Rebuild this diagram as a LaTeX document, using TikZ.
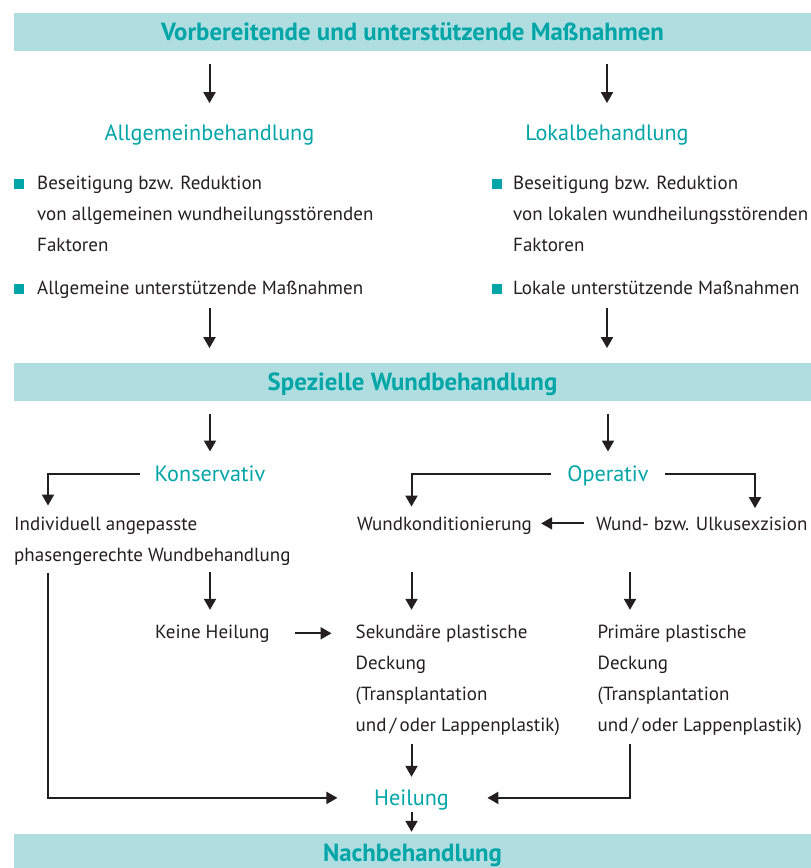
\documentclass[tikz,border=0pt]{standalone}
\usepackage{fontspec}
\setmainfont{PT Sans}
\usetikzlibrary{positioning,arrows.meta}
\definecolor{petrol}{HTML}{00A5A8}
\definecolor{bandc}{HTML}{B0DEE0}
\definecolor{ink}{HTML}{231F20}
\tikzset{
  band/.style={rectangle, fill=bandc, minimum width=797pt, minimum height=38pt, inner sep=0pt,
    text=petrol, font=\fontsize{24.8}{28}\selectfont\bfseries, text height=17.4pt, text depth=0pt},
  head/.style={text=petrol, font=\fontsize{22.2}{26}\selectfont, inner sep=0pt, anchor=base,
    text height=17pt, text depth=2pt},
  txt/.style={text=ink, font=\fontsize{19}{31}\selectfont, align=left, inner sep=0pt, anchor=base west},
  dot/.style={rectangle, fill=petrol, minimum size=10pt, inner sep=0pt},
  line/.style={draw=ink, line width=2pt, -{Triangle[width=12pt,length=11pt]}},
}
\begin{document}
\begin{tikzpicture}[x=1pt,y=-1pt]
  \useasboundingbox (0,0) rectangle (811,868);
  \clip (0,0) rectangle (811,868);

  % Baender
  \node[band] (vor) at (412.5,32) {Vorbereitende und unterstützende Maßnahmen};
  \node[band] (spez) at (412.5,381.7) {Spezielle Wundbehandlung};
  \node[band] (nach) at (412.5,853) {Nachbehandlung};

  % Allgemein- und Lokalbehandlung
  \node[head] (allg) at (209.5,140) {Allgemeinbehandlung};
  \node[head] (lokal) at (607,140) {Lokalbehandlung};

  % base = Grundlinie der letzten Zeile
  \node[txt] (allgred) at (37,251) {Beseitigung bzw. Reduktion\\von allgemeinen wundheilungsstörenden\\Faktoren};
  \node[txt] (allgmass) at (37,294) {Allgemeine unterstützende Maßnahmen};
  \node[txt] (lokred) at (513,251) {Beseitigung bzw. Reduktion\\von lokalen wundheilungsstörenden\\Faktoren};
  \node[txt] (lokmass) at (513,294) {Lokale unterstützende Maßnahmen};

  \node[dot, left=13pt of allgred.north west, yshift=-9pt] (d1) {};
  \node[dot, left=13pt of allgmass.base west, yshift=5pt] (d2) {};
  \node[dot, left=11pt of lokred.north west, yshift=-9pt] (d3) {};
  \node[dot, left=11pt of lokmass.base west, yshift=5pt] (d4) {};

  % spezielle Wundbehandlung
  \node[head] (kons) at (210,481.7) {Konservativ};
  \node[head] (oper) at (608,481.7) {Operativ};

  \node[txt] (indiv) at (14,561) {Individuell angepasste\\phasengerechte Wundbehandlung};
  \node[txt] (wundk) at (357,530) {Wundkonditionierung};
  \node[txt] (exz) at (596,530) {Wund- bzw. Ulkusexzision};
  \node[txt] (keine) at (155,638) {Keine Heilung};
  \node[txt] (sek) at (355.5,731) {Sekundäre plastische\\Deckung\\(Transplantation\\und\,/\,oder Lappenplastik)};
  \node[txt] (prim) at (597.5,731) {Primäre plastische\\Deckung\\(Transplantation\\und\,/\,oder Lappenplastik)};
  \node[head] (heil) at (411.5,805.4) {Heilung};

  \coordinate (links) at (48,0);
  \coordinate (mitte) at (411.5,0);
  \coordinate (prx) at (630,0);
  \coordinate (rechts) at (755,0);

  \path[line, shorten <=12.3pt, shorten >=19.7pt] (vor.south -| allg.base) -- (allg.north);
  \path[line, shorten <=12.3pt, shorten >=19.7pt] (vor.south -| lokal.base) -- (lokal.north);
  \path[line, shorten <=14.3pt, shorten >=14.4pt] (allgmass.base -| allg.base) -- (spez.north -| allg.base);
  \path[line, shorten <=14.3pt, shorten >=14.4pt] (lokmass.base -| lokal.base) -- (spez.north -| lokal.base);
  \path[line, shorten <=12.6pt, shorten >=13pt] (spez.south -| kons.base) -- (kons.north);
  \path[line, shorten <=12.6pt, shorten >=13pt] (spez.south -| oper.base) -- (oper.north);

  \path[line, shorten <=15pt, shorten >=10.8pt] (kons.west) -| (links |- indiv.north);
  \path[line, shorten <=16pt, shorten >=9.8pt] (oper.west) -| (mitte |- wundk.north);
  \path[line, shorten <=16pt, shorten >=8.2pt] (oper.east) -| (rechts |- exz.north);
  \path[line, shorten <=11.7pt, shorten >=9pt] (exz.west) -- (exz.west -| wundk.east);

  \path[line, shorten <=7pt, shorten >=14.5pt] (indiv.south -| kons.base) -- (keine.north -| kons.base);
  \path[line, shorten <=37.7pt, shorten >=14.5pt] (wundk.south -| mitte) -- (sek.north -| mitte);
  \path[line, shorten <=41.7pt, shorten >=14.5pt] (exz.south -| prx) -- (prim.north -| prx);
  \path[line, shorten <=24.7pt, shorten >=24pt] (keine.east) -- (keine.east -| sek.west);

  \path[line, shorten <=7.7pt, shorten >=36.5pt] (indiv.south -| links) |- (heil.west);
  \path[line, shorten <=9pt, shorten >=11.4pt] (sek.south -| mitte) -- (heil.north);
  \path[line, shorten <=9pt, shorten >=38.4pt] (prim.south -| prx) |- (heil.east);
  \path[line, shorten <=4.6pt, shorten >=2pt] (heil.south) -- (nach.north -| heil.south);
\end{tikzpicture}
\end{document}
